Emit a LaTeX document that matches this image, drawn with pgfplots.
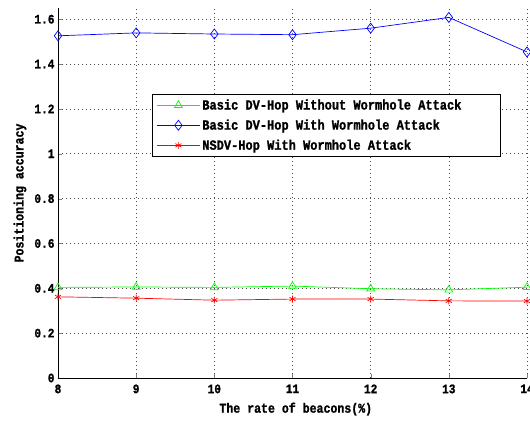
\documentclass[border=0pt]{standalone}
\usepackage{pgfplots}
\pgfplotsset{compat=1.18}
\usepackage{fontspec}
\setmainfont{Liberation Mono}[FakeStretch=0.86, BoldFeatures={FakeBold=1.2}]
\begin{document}
\begin{tikzpicture}
\begin{axis}[
  scale only axis,
  width=469bp, height=370bp,
  xmin=8, xmax=14, ymin=0, ymax=1.65,
  xtick={8,9,...,14},
  ytick={0,0.2,...,1.6},
  axis x line*=bottom, axis y line*=left,
  axis line style={-, black, line width=0.7pt},
  tick align=inside,
  major tick length=4bp,
  grid=major,
  grid style={dash pattern=on 0.8bp off 3.2bp, black!70, line width=0.6pt},
  /pgf/number format/assume math mode=true,
  /pgf/number format/fixed,
  ticklabel style={font=\bfseries\fontsize{13}{15}\selectfont},
  xticklabel style={yshift=-3bp},
  xlabel={The rate of beacons(\%)},
  ylabel={Positioning accuracy},
  label style={font=\bfseries\fontsize{13.5}{15}\selectfont},
  xlabel style={at={(axis description cs:0.507,-0.084)}, anchor=center},
  ylabel style={at={(axis description cs:-0.081,0.5)}, anchor=center},
  legend style={at={(axis description cs:0.2004,0.7676)}, anchor=north west,
    draw=black, line width=0.9pt, fill=white,
    font=\bfseries\fontsize{14}{16}\selectfont,
    inner xsep=4bp, inner ysep=3bp,
    row sep=4.5bp,
    cells={anchor=west}},
  legend cell align=left,
  legend image code/.code={\draw[mark repeat=2,mark phase=2,line width=0.9pt] plot coordinates {(0bp,0bp) (21.5bp,0bp) (43bp,0bp)};},
]
\addplot[color={rgb,1:red,0;green,1;blue,0}, line width=0.7pt, mark=triangle, mark size=4.5bp, mark options={solid, line width=0.7pt}]
  coordinates {(8,0.404) (9,0.406) (10,0.404) (11,0.410) (12,0.398) (13,0.393) (14,0.405)};
\addlegendentry{Basic DV-Hop Without Wormhole Attack\hspace*{33bp}}
\addplot[color=blue, line width=0.7pt, mark=diamond, mark size=5bp, mark options={solid, line width=0.7pt}]
  coordinates {(8,1.526) (9,1.539) (10,1.534) (11,1.531) (12,1.560) (13,1.608) (14,1.454)};
\addlegendentry{Basic DV-Hop With Wormhole Attack}
\addplot[color=red, line width=0.7pt, mark=asterisk, mark size=3.5bp, mark options={solid, line width=0.7pt}]
  coordinates {(8,0.362) (9,0.356) (10,0.347) (11,0.352) (12,0.352) (13,0.344) (14,0.343)};
\addlegendentry{NSDV-Hop With Wormhole Attack}
\end{axis}
\pgfresetboundingbox
\path (-58bp,-44bp) rectangle (472bp,378bp);
\end{tikzpicture}
\end{document}
